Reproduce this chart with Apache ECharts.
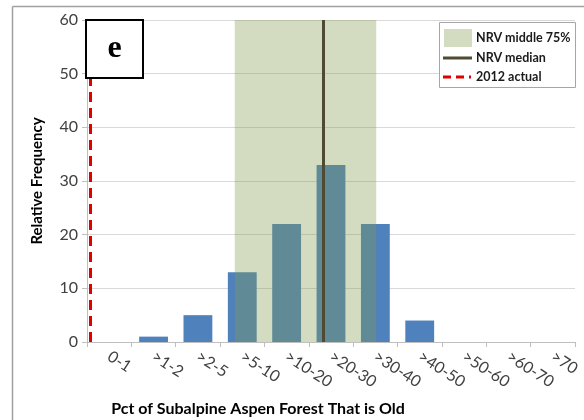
<!DOCTYPE html>
<html><head><meta charset="utf-8">
<script src="https://cdn.jsdelivr.net/npm/echarts@6/dist/echarts.min.js"></script>
<style>html,body{margin:0;padding:0;background:#fff}#c{width:584px;height:420px}</style>
</head><body><div id="c"></div>
<script>
const categories = ['0-1','>1-2','>2-5','>5-10','>10-20','>20-30','>30-40','>40-50','>50-60','>60-70','>70'];
const frequency = [0,1,5,13,22,33,22,4,0,0,0];
const yTicks = {min:0, max:60, interval:10};
// positions along category axis (in category units, 0 = left edge)
const nrvBand = [3.33, 6.52];
const nrvMedian = 5.32;
const actual2012 = 0.08;

const chart = echarts.init(document.getElementById('c'), null, {renderer:'canvas'});
const font = 'Lato, "Open Sans", sans-serif';
chart.setOption({
  animation:false,
  grid:{left:87, right:9, top:20, bottom:78},
  xAxis:[{
    type:'category', data:categories, boundaryGap:true,
    axisLine:{lineStyle:{color:'#bfbfbf'}},
    axisTick:{show:true, length:5, lineStyle:{color:'#bfbfbf'}, alignWithLabel:false},
    axisLabel:{rotate:-33, fontSize:16, color:'#404040', fontFamily:font, margin:13, interval:0}
  },{
    type:'value', min:0, max:categories.length, show:false
  }],
  yAxis:{
    type:'value', min:yTicks.min, max:yTicks.max, interval:yTicks.interval,
    axisLine:{show:true, lineStyle:{color:'#bfbfbf'}},
    axisTick:{show:true, length:5, lineStyle:{color:'#bfbfbf'}},
    splitLine:{lineStyle:{color:'#d9d9d9'}},
    axisLabel:{fontSize:16, color:'#404040', fontFamily:font, margin:9},
    name:'Relative Frequency', nameLocation:'middle', nameGap:42,
    nameTextStyle:{fontSize:15, fontWeight:'bold', color:'#000', fontFamily:font}
  },
  series:[{
    type:'bar', data:frequency, barWidth:'65%', z:2,
    itemStyle:{color:'#4f81bd'}
  },{
    type:'line', xAxisIndex:1, data:[], z:3, symbol:'none',
    markArea:{silent:true, z:4, itemStyle:{color:'rgba(129,155,78,0.35)'},
      data:[[{xAxis:nrvBand[0]},{xAxis:nrvBand[1]}]]},
    markLine:{silent:true, z:5, symbol:'none', label:{show:false},
      data:[
        {xAxis:nrvMedian, lineStyle:{color:'#4f4a33', width:3, type:'solid'}},
        {xAxis:actual2012, lineStyle:{color:'#e00000', width:3, type:[10,6]}}
      ]}
  }],
  graphic:[
    {type:'line', shape:{x1:12.5,y1:6.5,x2:584,y2:6.5}, style:{stroke:'#a0a0a0', lineWidth:1.5}, z:10},
    {type:'line', shape:{x1:12.5,y1:6.5,x2:12.5,y2:420}, style:{stroke:'#a0a0a0', lineWidth:1.5}, z:10},
    {type:'rect', shape:{x:86,y:20,width:57,height:58}, style:{fill:'#fff', stroke:'#000', lineWidth:2}, z:10},
    {type:'text', x:114.5, y:49, style:{text:'e', font:'bold 32px "Liberation Serif", "DejaVu Serif", serif', fill:'#000', align:'center', verticalAlign:'middle'}, z:11},
    {type:'rect', shape:{x:439.5,y:22.5,width:136,height:65}, style:{fill:'#fff', stroke:'#a6a6a6', lineWidth:1}, z:10},
    {type:'rect', shape:{x:444,y:29,width:28,height:18}, style:{fill:'#d3dcc0'}, z:11},
    {type:'text', x:476, y:38, style:{text:'NRV middle 75%', font:'bold 12.5px '+font, fill:'#1a1a1a', verticalAlign:'middle'}, z:11},
    {type:'line', shape:{x1:443,y1:58,x2:472,y2:58}, style:{stroke:'#4f4a33', lineWidth:3}, z:11},
    {type:'text', x:476, y:58, style:{text:'NRV median', font:'bold 12.5px '+font, fill:'#1a1a1a', verticalAlign:'middle'}, z:11},
    {type:'line', shape:{x1:443,y1:77,x2:471,y2:77}, style:{stroke:'#e00000', lineWidth:3, lineDash:[8,5]}, z:11},
    {type:'text', x:476, y:77, style:{text:'2012 actual', font:'bold 12.5px '+font, fill:'#1a1a1a', verticalAlign:'middle'}, z:11},
    {type:'text', x:258, y:409, style:{text:'Pct of Subalpine Aspen Forest That is Old', font:'bold 16px '+font, fill:'#000', align:'center', verticalAlign:'middle'}, z:11}
  ]
});
</script></body></html>
